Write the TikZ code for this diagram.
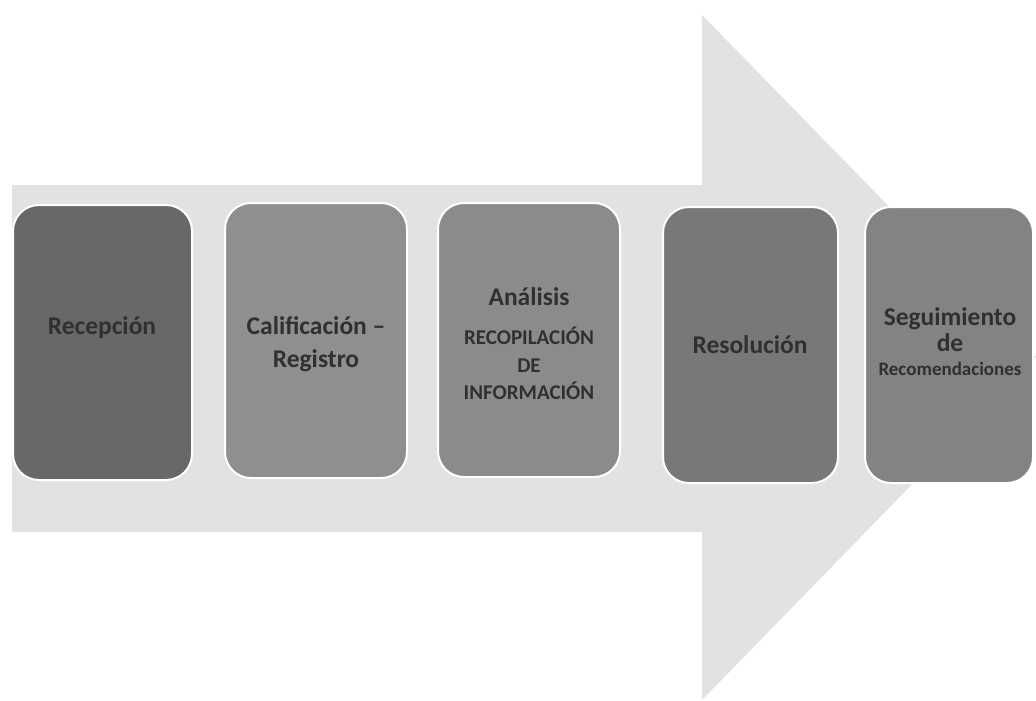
\documentclass[tikz,border=0pt]{standalone}
\usepackage{fontspec}
\setmainfont{Carlito}
\definecolor{arrowgray}{HTML}{E2E2E2}
\definecolor{boxA}{HTML}{686868}
\definecolor{boxB}{HTML}{8F8F8F}
\definecolor{boxC}{HTML}{8B8B8B}
\definecolor{boxD}{HTML}{787878}
\definecolor{boxE}{HTML}{838383}
\definecolor{txt}{HTML}{303030}
\begin{document}
\begin{tikzpicture}[x=1pt,y=-1pt,
  stagebox/.style={rectangle, rounded corners=26pt, draw=white, line width=2pt, inner sep=0pt},
  big/.style={text=txt, font=\fontsize{25.5}{33}\selectfont\bfseries, align=center, inner sep=0pt},
  small/.style={text=txt, font=\fontsize{21}{27}\selectfont\bfseries, align=center, inner sep=0pt}]
\useasboundingbox (0,0) rectangle (1036,701);
% big arrow
\fill[arrowgray] (12,185) -- (702,185) -- (702,15) -- (1036,357) -- (702,700) -- (702,532) -- (12,532) -- cycle;
% boxes
\node[stagebox, fill=boxA, minimum width=179pt, minimum height=275pt] (b1) at (102.5,342.5) {};
\node[stagebox, fill=boxB, minimum width=182pt, minimum height=275pt] (b2) at (316,340.5) {};
\node[stagebox, fill=boxC, minimum width=182pt, minimum height=274pt] (b3) at (529,340) {};
\node[stagebox, fill=boxD, minimum width=175pt, minimum height=276pt] (b4) at (750.5,345) {};
\node[stagebox, fill=boxE, minimum width=168pt, minimum height=276pt] (b5) at (949,345) {};
% texts
\node[big] (t1) at (102,328) {Recepción};
\node[big] (t2) at (316,344) {Calificación –\\Registro};
\node[big, anchor=base] (t3a) at (529,305) {Análisis};
\node[small, anchor=base] (t3b) at (529,344) {RECOPILACIÓN};
\node[small, anchor=base] (t3c) at (529,372) {DE};
\node[small, anchor=base] (t3d) at (529,399) {INFORMACIÓN};
\node[big] (t4) at (750,345) {Resolución};
\node[big, anchor=base] (t5a) at (950,325) {Seguimiento};
\node[big, anchor=base] (t5b) at (950,351) {de};
\node[text=txt, font=\fontsize{19}{22}\selectfont\bfseries, inner sep=0pt, anchor=base] (t5c) at (950,375) {Recomendaciones};
\end{tikzpicture}
\end{document}
